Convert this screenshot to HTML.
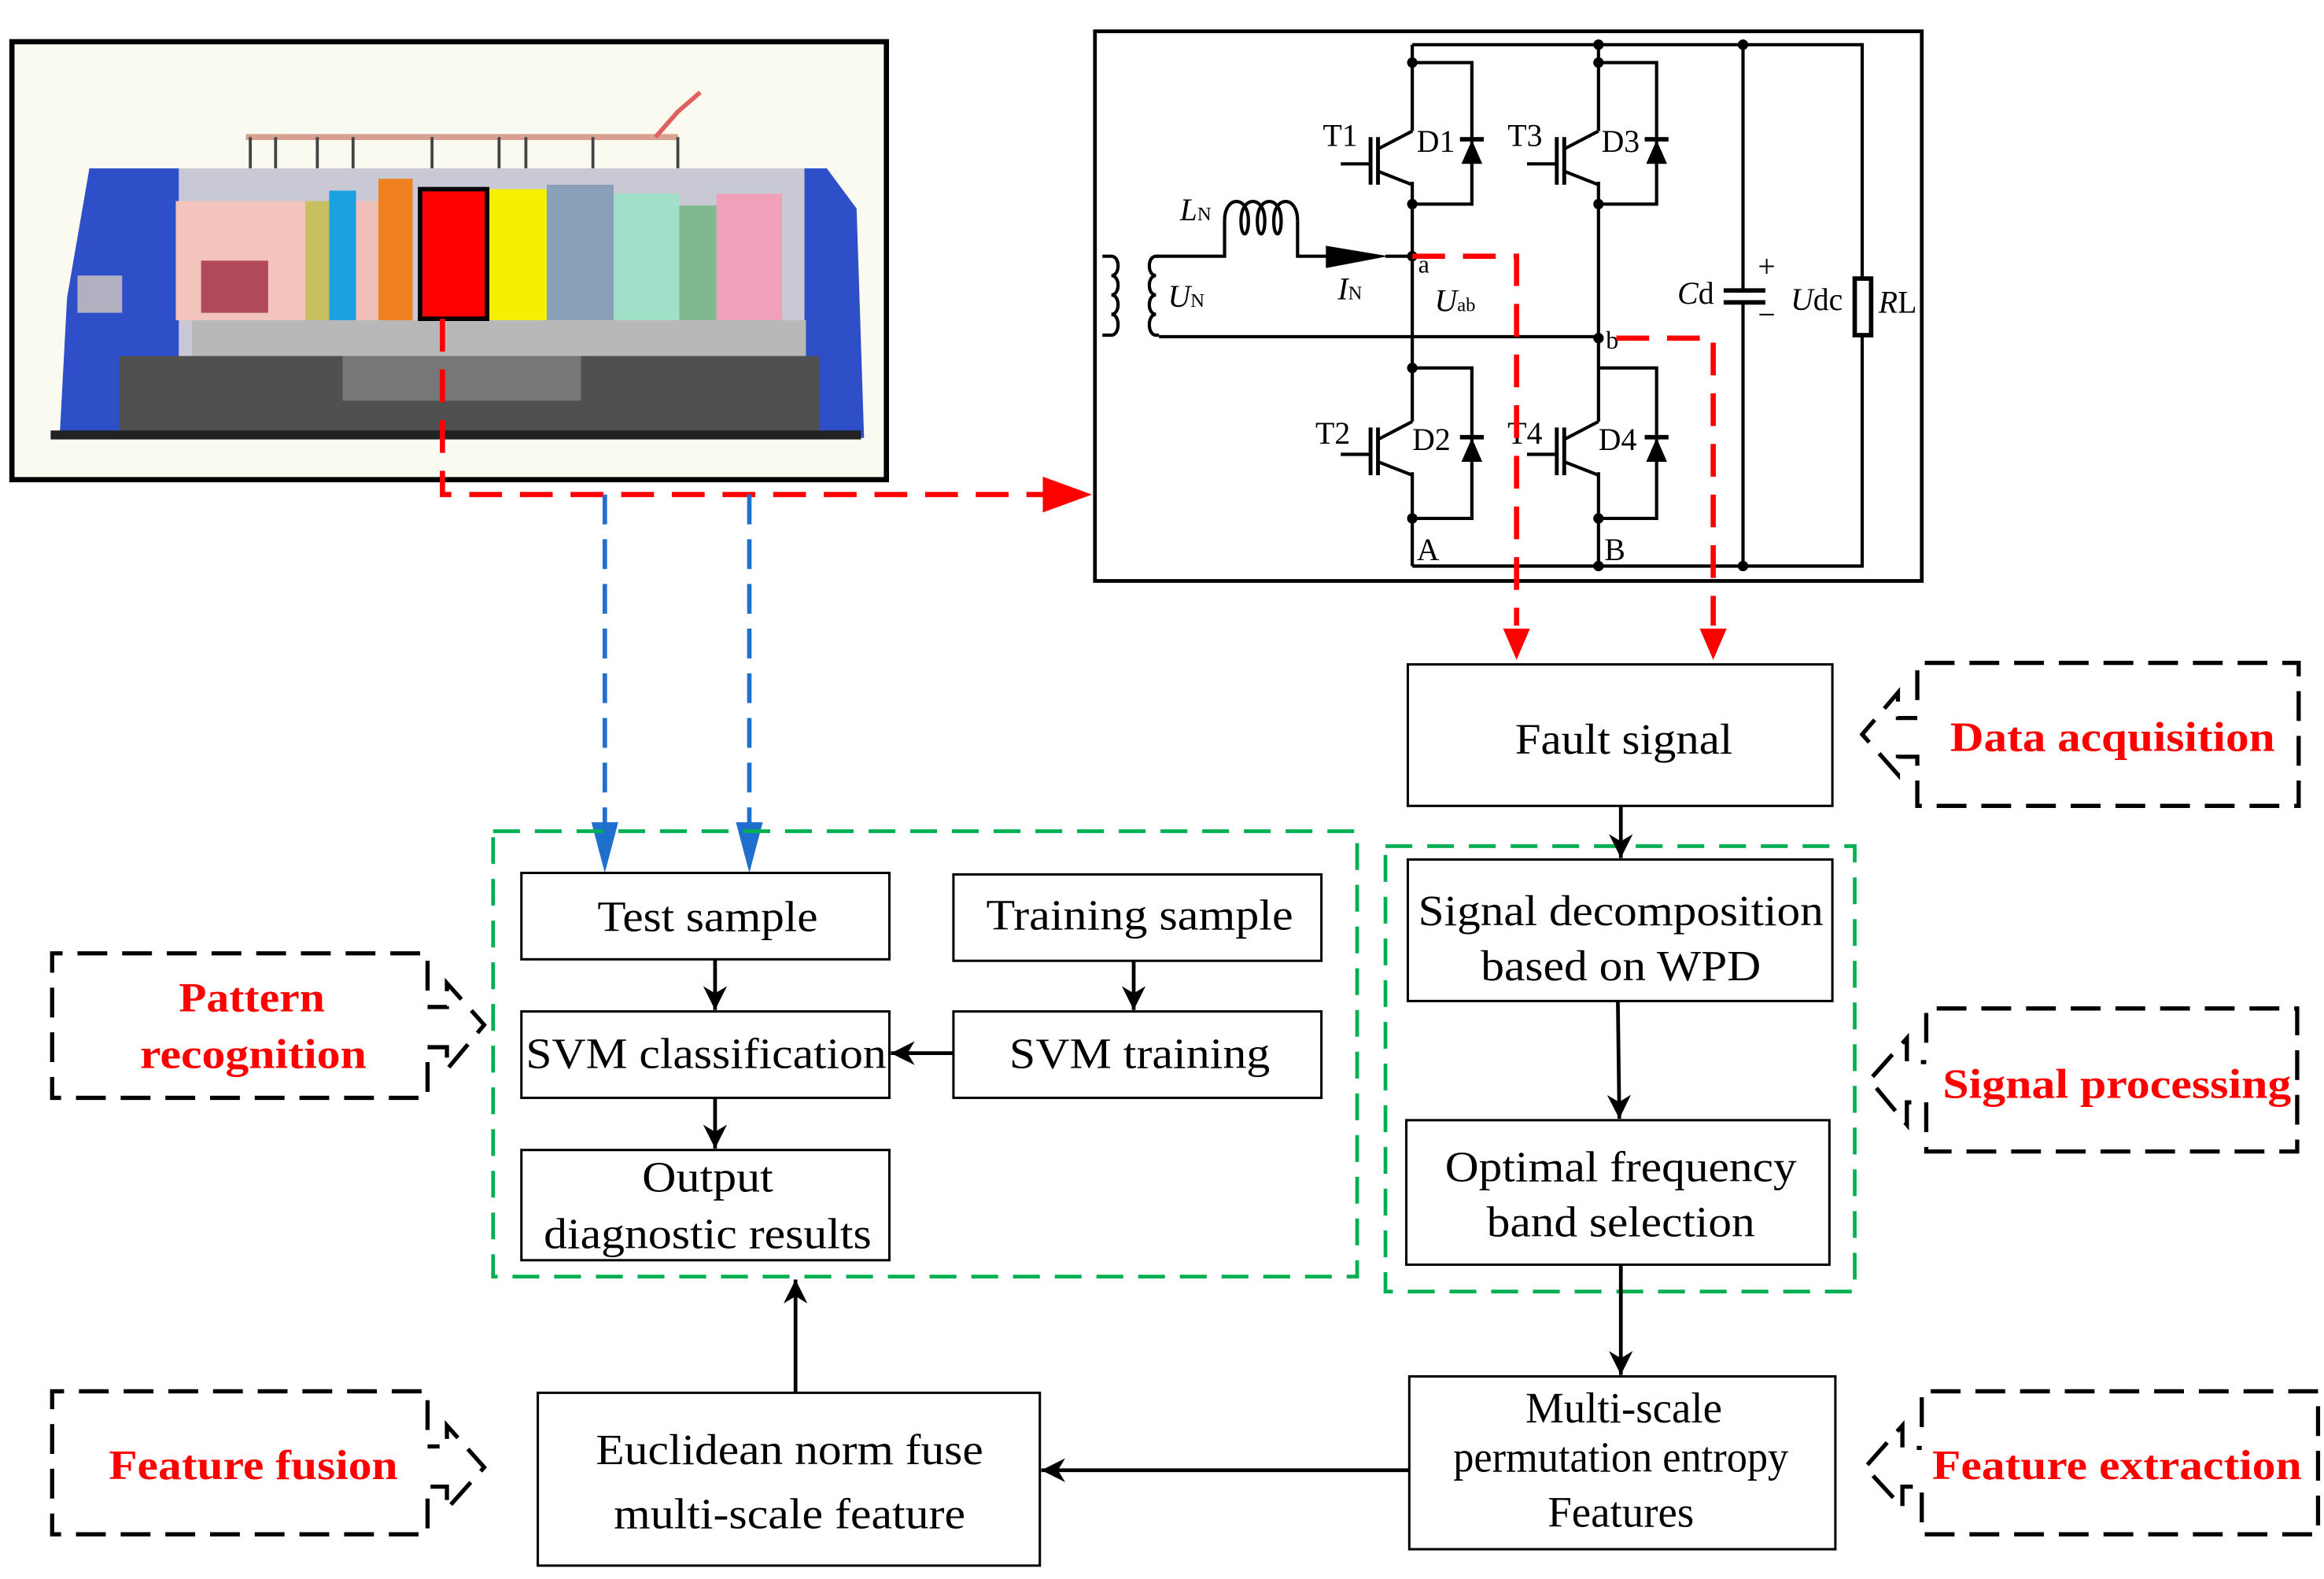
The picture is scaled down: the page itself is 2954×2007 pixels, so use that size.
<!DOCTYPE html>
<html><head><meta charset="utf-8"><style>
html,body{margin:0;padding:0;background:#fff;}
svg{display:block;}
text{font-family:"Liberation Serif",serif;}
.b{fill:#fff;stroke:#000;stroke-width:1.6;}
.t{font-size:29px;text-anchor:middle;fill:#000;}
.r{font-size:28px;font-weight:bold;text-anchor:middle;fill:#f00;}
.w{stroke:#000;stroke-width:2.2;fill:none;}
.c{font-size:21px;fill:#000;}
</style></head><body>
<svg width="2954" height="2007" viewBox="0 0 1560 1060" preserveAspectRatio="none" xmlns="http://www.w3.org/2000/svg">
<defs>
<marker id="akb" viewBox="0 0 10 10" refX="10" refY="5" markerWidth="20" markerHeight="16" markerUnits="userSpaceOnUse" orient="auto"><path d="M0,0 L10,5 L0,10 L3,5 Z" fill="#000"/></marker>
</defs>

<!-- Train picture -->
<rect x="8" y="28" width="587" height="294" fill="#fbfaf0" stroke="#000" stroke-width="3.5"/>
<line x1="165" y1="92" x2="455" y2="92" stroke="#d8a090" stroke-width="4"/>
<g stroke="#444" stroke-width="2">
<line x1="168" y1="92" x2="168" y2="113"/><line x1="185" y1="92" x2="185" y2="113"/><line x1="213" y1="92" x2="213" y2="113"/><line x1="237" y1="92" x2="237" y2="113"/><line x1="290" y1="92" x2="290" y2="113"/><line x1="335" y1="92" x2="335" y2="113"/><line x1="353" y1="92" x2="353" y2="113"/><line x1="398" y1="92" x2="398" y2="113"/><line x1="455" y1="92" x2="455" y2="113"/></g>
<path d="M440,92 L455,75 L470,62" stroke="#e06060" stroke-width="3" fill="none"/>
<path d="M60,113 L555,113 L575,140 L580,294 L40,294 L45,200 Z" fill="#2f4fc8"/>
<rect x="120" y="113" width="420" height="126" fill="#c9c9d6"/>
<rect x="118" y="135" width="90" height="80" fill="#f2c4bc"/>
<rect x="135" y="175" width="45" height="35" fill="#b04a5a"/>
<rect x="205" y="135" width="16" height="80" fill="#c8c060"/>
<rect x="221" y="128" width="18" height="87" fill="#1ca0e0"/>
<rect x="239" y="135" width="15" height="80" fill="#f0c0b8"/>
<rect x="254" y="120" width="23" height="100" fill="#f08020"/>
<rect x="327" y="127" width="40" height="88" fill="#f5f000"/>
<rect x="367" y="124" width="45" height="91" fill="#8aa0b8"/>
<rect x="412" y="130" width="44" height="85" fill="#a0e0c8"/>
<rect x="456" y="138" width="25" height="77" fill="#80b890"/>
<rect x="481" y="130" width="44" height="85" fill="#f0a0b8"/>
<rect x="129" y="215" width="412" height="24" fill="#b8b8b8"/>
<rect x="80" y="239" width="470" height="50" fill="#505050"/>
<rect x="230" y="239" width="160" height="30" fill="#777"/>
<rect x="52" y="185" width="30" height="25" fill="#b0b0c0"/>
<rect x="34" y="289" width="544" height="6" fill="#222"/>
<rect x="282" y="127" width="45" height="87" fill="#ff0000" stroke="#000" stroke-width="3"/>

<!-- red dashed from train -->
<path d="M297,214 V332 H700" stroke="#f00" stroke-width="3.5" fill="none" stroke-dasharray="22,12"/>
<polygon points="700,320 733,332 700,344" fill="#f00"/>
<!-- blue dashed -->
<g stroke="#1f6fcf" stroke-width="3" stroke-dasharray="20,10" fill="none">
<line x1="406" y1="332" x2="406" y2="555"/><line x1="503" y1="332" x2="503" y2="555"/></g>
<polygon points="397,552 415,552 406,586" fill="#1f6fcf"/>
<polygon points="494,552 512,552 503,586" fill="#1f6fcf"/>

<!-- Circuit -->
<rect x="735" y="21" width="555" height="369" fill="#fff" stroke="#000" stroke-width="2.5"/>
<g class="w">
<path d="M948,30 H1250 V187 M1250,225 V380 H948"/>
<line x1="948" y1="30" x2="948" y2="88"/><line x1="948" y1="122" x2="948" y2="283"/><line x1="948" y1="317" x2="948" y2="380"/>
<line x1="1073" y1="30" x2="1073" y2="88"/><line x1="1073" y1="122" x2="1073" y2="283"/><line x1="1073" y1="317" x2="1073" y2="380"/>
<line x1="1170" y1="30" x2="1170" y2="195"/><line x1="1170" y1="203" x2="1170" y2="380"/>
<line x1="1157" y1="195" x2="1185" y2="195" stroke-width="3"/><line x1="1157" y1="203" x2="1185" y2="203" stroke-width="3"/>
<path d="M948,42 H988 V137 H948"/><path d="M1073,42 H1112 V137 H1073"/>
<path d="M948,247 H988 V348 H948"/><path d="M1073,247 H1112 V348 H1073"/>
<g><line x1="900" y1="110" x2="920" y2="110"/><line x1="920" y1="92" x2="920" y2="124" stroke-width="2.6"/><line x1="925" y1="92" x2="925" y2="124" stroke-width="2.6"/><line x1="925" y1="100" x2="948" y2="88"/><line x1="925" y1="115" x2="948" y2="124"/></g>
<g transform="translate(125,0)"><line x1="900" y1="110" x2="920" y2="110"/><line x1="920" y1="92" x2="920" y2="124" stroke-width="2.6"/><line x1="925" y1="92" x2="925" y2="124" stroke-width="2.6"/><line x1="925" y1="100" x2="948" y2="88"/><line x1="925" y1="115" x2="948" y2="124"/></g>
<g transform="translate(0,195)"><line x1="900" y1="110" x2="920" y2="110"/><line x1="920" y1="92" x2="920" y2="124" stroke-width="2.6"/><line x1="925" y1="92" x2="925" y2="124" stroke-width="2.6"/><line x1="925" y1="100" x2="948" y2="88"/><line x1="925" y1="115" x2="948" y2="124"/></g>
<g transform="translate(125,195)"><line x1="900" y1="110" x2="920" y2="110"/><line x1="920" y1="92" x2="920" y2="124" stroke-width="2.6"/><line x1="925" y1="92" x2="925" y2="124" stroke-width="2.6"/><line x1="925" y1="100" x2="948" y2="88"/><line x1="925" y1="115" x2="948" y2="124"/></g>
<!-- input -->
<path d="M776,172 H822 V148 M871,148 V172 H892 M930,172 H948"/>
<path d="M822,148 c0,-17 16,-17 16,0 c0,12 -5,12 -5,0 c0,-17 16,-17 16,0 c0,12 -5,12 -5,0 c0,-17 16,-17 16,0 c0,12 -5,12 -5,0 c0,-17 16,-17 16,0"/>
<path d="M778,226 H1073"/>
<path d="M740,172 h6 c6,0 6,13 0,13 c6,0 6,13 0,13 c6,0 6,13 0,13 c6,0 6,14 0,14 h-6"/>
<path d="M778,172 h-2 c-6,0 -6,13 0,13 c-6,0 -6,13 0,13 c-6,0 -6,13 0,13 c-6,0 -6,14 0,14 h2"/>
</g>
<rect x="1245" y="187" width="11" height="38" fill="#fff" stroke="#000" stroke-width="3"/>
<polygon points="890,165 932,172 890,180" fill="#000"/>
<g fill="#000">
<polygon points="981,110 995,110 988,94"/><rect x="980" y="92" width="16" height="3"/>
<polygon points="1105,110 1119,110 1112,94"/><rect x="1104" y="92" width="16" height="3"/>
<polygon points="981,310 995,310 988,294"/><rect x="980" y="292" width="16" height="3"/>
<polygon points="1105,310 1119,310 1112,294"/><rect x="1104" y="292" width="16" height="3"/>
<circle cx="948" cy="42" r="3.5"/><circle cx="948" cy="137" r="3.5"/><circle cx="948" cy="172" r="3.5"/><circle cx="948" cy="247" r="3.5"/><circle cx="948" cy="348" r="3.5"/>
<circle cx="1073" cy="30" r="3.5"/><circle cx="1073" cy="42" r="3.5"/><circle cx="1073" cy="137" r="3.5"/><circle cx="1073" cy="227" r="3.5"/><circle cx="1073" cy="348" r="3.5"/><circle cx="1073" cy="380" r="3.5"/>
<circle cx="1170" cy="30" r="3.5"/><circle cx="1170" cy="380" r="3.5"/>
</g>
<g class="c">
<text x="888" y="98">T1</text><text x="951" y="102">D1</text>
<text x="1012" y="98">T3</text><text x="1075" y="102">D3</text>
<text x="883" y="298">T2</text><text x="948" y="302">D2</text>
<text x="1012" y="298">T4</text><text x="1073" y="302">D4</text>
<text x="951" y="376">A</text><text x="1077" y="376">B</text>
<text x="952" y="183" font-size="17">a</text><text x="1078" y="234" font-size="17">b</text>
<text x="792" y="148" font-style="italic">L<tspan font-size="13" font-style="normal">N</tspan></text>
<text x="784" y="206" font-style="italic">U<tspan font-size="13" font-style="normal">N</tspan></text>
<text x="898" y="201" font-style="italic">I<tspan font-size="13" font-style="normal">N</tspan></text>
<text x="963" y="209" font-style="italic">U<tspan font-size="13" font-style="normal">ab</tspan></text>
<text x="1126" y="204"><tspan font-style="italic">C</tspan>d</text>
<text x="1180" y="186">+</text><text x="1180" y="218">−</text>
<text x="1202" y="208"><tspan font-style="italic">U</tspan>dc</text>
<text x="1261" y="210"><tspan font-style="italic">R</tspan>L</text>
</g>
<g stroke="#f00" stroke-width="3.5" fill="none" stroke-dasharray="22,12">
<path d="M948,172 H1018 V420"/><path d="M1085,227 H1150 V420"/></g>
<polygon points="1009,422 1027,422 1018,443" fill="#f00"/>
<polygon points="1141,422 1159,422 1150,443" fill="#f00"/>

<rect x="331" y="558" width="580" height="299" fill="none" stroke="#00b050" stroke-width="2.5" stroke-dasharray="18,10"/>
<rect x="930" y="568" width="315" height="299" fill="none" stroke="#00b050" stroke-width="2.5" stroke-dasharray="18,10"/>

<rect class="b" x="945" y="446" width="285" height="95"/>
<text class="t" x="1090" y="506" textLength="146" lengthAdjust="spacingAndGlyphs">Fault signal</text>
<rect class="b" x="945" y="577" width="285" height="95"/>
<text class="t" x="1088" y="621" textLength="272" lengthAdjust="spacingAndGlyphs">Signal decomposition</text>
<text class="t" x="1088" y="658" textLength="188" lengthAdjust="spacingAndGlyphs">based on WPD</text>
<rect class="b" x="944" y="752" width="284" height="97"/>
<text class="t" x="1088" y="793" textLength="236" lengthAdjust="spacingAndGlyphs">Optimal frequency</text>
<text class="t" x="1088" y="830" textLength="180" lengthAdjust="spacingAndGlyphs">band selection</text>
<rect class="b" x="946" y="924" width="286" height="116"/>
<text class="t" x="1090" y="955" font-size="23">Multi-scale</text>
<text class="t" x="1088" y="988" font-size="23" textLength="225" lengthAdjust="spacingAndGlyphs">permutation entropy</text>
<text class="t" x="1088" y="1025" font-size="23">Features</text>
<rect class="b" x="361" y="935" width="337" height="116"/>
<text class="t" x="530" y="983" textLength="260" lengthAdjust="spacingAndGlyphs">Euclidean norm fuse</text>
<text class="t" x="530" y="1026" textLength="236" lengthAdjust="spacingAndGlyphs">multi-scale feature</text>
<rect class="b" x="350" y="586" width="247" height="58"/>
<text class="t" x="475" y="625" textLength="148" lengthAdjust="spacingAndGlyphs">Test sample</text>
<rect class="b" x="640" y="587" width="247" height="58"/>
<text class="t" x="765" y="624" textLength="206" lengthAdjust="spacingAndGlyphs">Training sample</text>
<rect class="b" x="350" y="679" width="247" height="58"/>
<text class="t" x="474" y="717" textLength="242" lengthAdjust="spacingAndGlyphs">SVM classification</text>
<rect class="b" x="640" y="679" width="247" height="58"/>
<text class="t" x="765" y="717" textLength="175" lengthAdjust="spacingAndGlyphs">SVM training</text>
<rect class="b" x="350" y="772" width="247" height="74"/>
<text class="t" x="475" y="800" textLength="88" lengthAdjust="spacingAndGlyphs">Output</text>
<text class="t" x="475" y="838" textLength="220" lengthAdjust="spacingAndGlyphs">diagnostic results</text>

<g stroke="#000" stroke-width="2.5" fill="none">
<line x1="1088" y1="541" x2="1088" y2="576" marker-end="url(#akb)"/>
<line x1="1086" y1="672" x2="1087" y2="751" marker-end="url(#akb)"/>
<line x1="1088" y1="849" x2="1088" y2="923" marker-end="url(#akb)"/>
<line x1="946" y1="987" x2="699" y2="987" marker-end="url(#akb)"/>
<line x1="534" y1="935" x2="534" y2="859" marker-end="url(#akb)"/>
<line x1="480" y1="644" x2="480" y2="678" marker-end="url(#akb)"/>
<line x1="761" y1="645" x2="761" y2="678" marker-end="url(#akb)"/>
<line x1="480" y1="737" x2="480" y2="771" marker-end="url(#akb)"/>
<line x1="640" y1="707" x2="598" y2="707" marker-end="url(#akb)"/>
</g>

<g stroke="#000" stroke-width="2.8" fill="none" stroke-dasharray="20,10">
<path d="M1287,470 V445 H1543 V541 H1287 V508 H1274 V520 L1250,493 L1274,465 V482 H1287"/>
<path d="M1293,700 V677 H1542 V773 H1293 V740 H1280 V755 L1255,725 L1280,697 V713 H1293"/>
<path d="M1290,958 V934 H1556 V1030 H1290 V998 H1277 V1012 L1252,985 L1277,957 V972 H1290"/>
<path d="M287,665 V640 H35 V737 H287 V703 H300 V718 L325,688 L300,660 V676 H287"/>
<path d="M287,960 V934 H35 V1030 H287 V998 H300 V1013 L325,985 L300,957 V971 H287"/>
</g>
<text class="r" x="1418" y="504" textLength="218" lengthAdjust="spacingAndGlyphs">Data acquisition</text>
<text class="r" x="1421" y="737" textLength="234" lengthAdjust="spacingAndGlyphs">Signal processing</text>
<text class="r" x="1421" y="993" textLength="248" lengthAdjust="spacingAndGlyphs">Feature extraction</text>
<text class="r" x="169" y="679" textLength="98" lengthAdjust="spacingAndGlyphs">Pattern</text>
<text class="r" x="170" y="717" textLength="152" lengthAdjust="spacingAndGlyphs">recognition</text>
<text class="r" x="170" y="993" textLength="194" lengthAdjust="spacingAndGlyphs">Feature fusion</text>
</svg>
</body></html>
